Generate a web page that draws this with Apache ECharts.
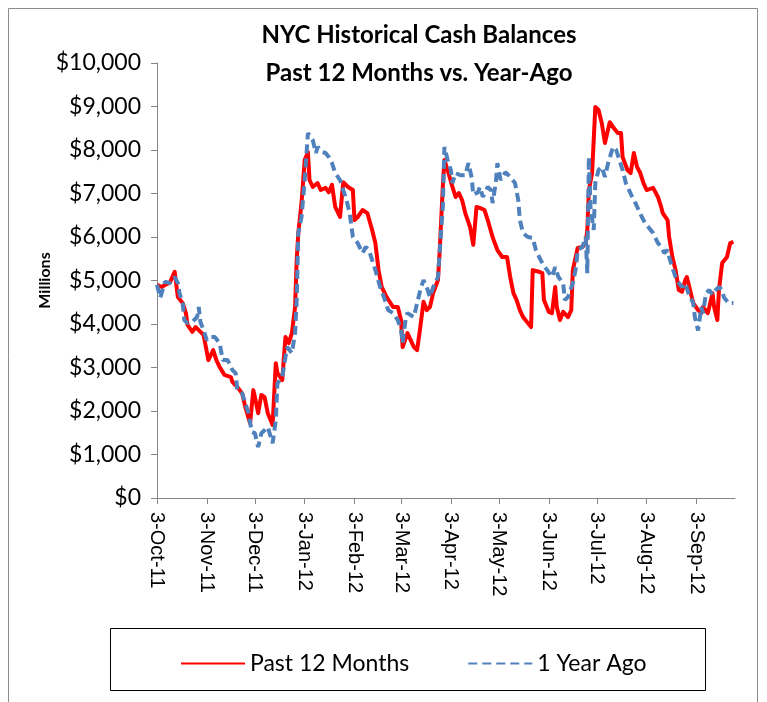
<!DOCTYPE html>
<html>
<head>
<meta charset="utf-8">
<script src="https://cdn.jsdelivr.net/npm/echarts@6/dist/echarts.min.js"></script>
<style>
  html, body { margin: 0; padding: 0; background: #ffffff; }
  #chart { width: 767px; height: 702px; }
</style>
</head>
<body>
<div id="chart"></div>
<script>
// ---- Data ----
const tickDates = ['2011-10-03','2011-11-03','2011-12-03','2012-01-03','2012-02-03','2012-03-03',
                   '2012-04-03','2012-05-03','2012-06-03','2012-07-03','2012-08-03','2012-09-03'];
const tickLabels = ['3-Oct-11','3-Nov-11','3-Dec-11','3-Jan-12','3-Feb-12','3-Mar-12',
                    '3-Apr-12','3-May-12','3-Jun-12','3-Jul-12','3-Aug-12','3-Sep-12'];
const yTicks = [0,1000,2000,3000,4000,5000,6000,7000,8000,9000,10000];

const pastDates = ['2011-10-03','2011-10-06','2011-10-08','2011-10-11','2011-10-14','2011-10-16','2011-10-19','2011-10-21','2011-10-22','2011-10-25','2011-10-27','2011-10-29',
'2011-11-01','2011-11-04','2011-11-07','2011-11-09','2011-11-11','2011-11-14','2011-11-18','2011-11-19','2011-11-22','2011-11-25','2011-11-27','2011-11-30',
'2011-12-02','2011-12-03','2011-12-05','2011-12-07','2011-12-09','2011-12-11','2011-12-14','2011-12-16','2011-12-17','2011-12-20','2011-12-22','2011-12-24','2011-12-26','2011-12-28','2011-12-29','2011-12-30',
'2012-01-01','2012-01-03','2012-01-05','2012-01-06','2012-01-08','2012-01-11','2012-01-13','2012-01-16','2012-01-18','2012-01-20','2012-01-22','2012-01-25','2012-01-27','2012-01-30',
'2012-02-02','2012-02-03','2012-02-05','2012-02-08','2012-02-11','2012-02-14','2012-02-16','2012-02-18','2012-02-20','2012-02-23','2012-02-27',
'2012-03-01','2012-03-03','2012-03-04','2012-03-07','2012-03-11','2012-03-13','2012-03-15','2012-03-17','2012-03-19','2012-03-21','2012-03-23','2012-03-26','2012-03-27','2012-03-29','2012-03-30',
'2012-04-01','2012-04-04','2012-04-06','2012-04-08','2012-04-10','2012-04-12','2012-04-15','2012-04-17','2012-04-19','2012-04-21','2012-04-24','2012-04-26','2012-04-29',
'2012-05-02','2012-05-05','2012-05-08','2012-05-10','2012-05-12','2012-05-14','2012-05-16','2012-05-18','2012-05-21','2012-05-23','2012-05-24','2012-05-28','2012-05-30','2012-05-31',
'2012-06-03','2012-06-05','2012-06-07','2012-06-08','2012-06-10','2012-06-12','2012-06-15','2012-06-17','2012-06-18','2012-06-21','2012-06-24','2012-06-26','2012-06-27','2012-06-28','2012-06-30',
'2012-07-02','2012-07-04','2012-07-06','2012-07-08','2012-07-11','2012-07-13','2012-07-16','2012-07-18','2012-07-19','2012-07-22','2012-07-24','2012-07-26','2012-07-28','2012-07-30',
'2012-08-01','2012-08-03','2012-08-07','2012-08-10','2012-08-12','2012-08-13','2012-08-16','2012-08-17','2012-08-19','2012-08-21','2012-08-23','2012-08-25','2012-08-27','2012-08-28','2012-08-30',
'2012-09-01','2012-09-04','2012-09-06','2012-09-07','2012-09-10','2012-09-11','2012-09-13','2012-09-14','2012-09-16','2012-09-17','2012-09-19','2012-09-22','2012-09-24','2012-09-26'];
const pastValues = [4900,4850,4900,4950,5200,4620,4480,4250,3980,3820,3930,3860,
3750,3170,3400,3170,3010,2830,2780,2670,2550,2410,2090,1720,
2480,2320,1950,2370,2320,1950,1680,3100,2870,2710,3700,3560,3790,4390,5470,6090,
6780,7770,7950,7310,7150,7240,7080,7130,7030,7200,6690,6460,7260,7150,
7080,6390,6460,6620,6550,6160,5860,5240,4850,4620,4390,
4390,4090,3470,3790,3470,3400,3930,4510,4320,4390,4710,5010,5630,7150,7770,
7540,7150,6920,7010,6850,6550,6230,5820,6690,6670,6620,6390,6000,
5700,5540,5540,5080,4710,4550,4320,4160,4020,3930,5240,5200,5170,4550,
4280,4250,4850,4390,4090,4280,4160,4320,5240,5750,5770,5860,6160,7080,7470,
8990,8920,8620,8160,8640,8530,8390,8390,7840,7540,7470,7930,7610,7470,
7240,7080,7130,6920,6690,6550,6390,6000,5540,5240,4780,4740,5010,5080,4780,
4480,4320,4250,4390,4250,4390,4710,4390,4090,4780,5400,5540,5860,5890];

const agoDates = ['2011-10-03','2011-10-05','2011-10-08','2011-10-11','2011-10-14','2011-10-16','2011-10-17','2011-10-19','2011-10-20','2011-10-22','2011-10-25','2011-10-28','2011-10-29','2011-10-30',
'2011-11-01','2011-11-03','2011-11-05','2011-11-08','2011-11-11','2011-11-13','2011-11-16','2011-11-19','2011-11-21','2011-11-22','2011-11-25','2011-11-27','2011-11-29',
'2011-12-01','2011-12-03','2011-12-05','2011-12-07','2011-12-11','2011-12-14','2011-12-16','2011-12-17','2011-12-20','2011-12-23','2011-12-26','2011-12-28','2011-12-29','2011-12-30',
'2012-01-01','2012-01-03','2012-01-05','2012-01-08','2012-01-10','2012-01-11','2012-01-14','2012-01-16','2012-01-18','2012-01-20','2012-01-22','2012-01-25','2012-01-27','2012-01-29','2012-01-31',
'2012-02-02','2012-02-05','2012-02-08','2012-02-10','2012-02-12','2012-02-14','2012-02-16','2012-02-19','2012-02-22','2012-02-24','2012-02-27',
'2012-03-01','2012-03-03','2012-03-04','2012-03-06','2012-03-07','2012-03-11','2012-03-13','2012-03-15','2012-03-17','2012-03-19','2012-03-21','2012-03-23','2012-03-26','2012-03-27','2012-03-29','2012-03-30',
'2012-04-01','2012-04-03','2012-04-04','2012-04-06','2012-04-09','2012-04-12','2012-04-14','2012-04-16','2012-04-17','2012-04-20','2012-04-21','2012-04-23','2012-04-26','2012-04-28','2012-04-29',
'2012-05-01','2012-05-02','2012-05-04','2012-05-07','2012-05-10','2012-05-13','2012-05-15','2012-05-16','2012-05-18','2012-05-21','2012-05-24','2012-05-26','2012-05-28','2012-05-30',
'2012-06-02','2012-06-05','2012-06-07','2012-06-09','2012-06-12','2012-06-13','2012-06-15','2012-06-18','2012-06-20','2012-06-21','2012-06-24','2012-06-26','2012-06-27','2012-06-28','2012-06-29',
'2012-07-01','2012-07-02','2012-07-04','2012-07-06','2012-07-08','2012-07-10','2012-07-13','2012-07-15','2012-07-17','2012-07-19','2012-07-21','2012-07-23','2012-07-25','2012-07-27','2012-07-29','2012-07-31',
'2012-08-02','2012-08-04','2012-08-07','2012-08-10','2012-08-12','2012-08-14','2012-08-16','2012-08-17','2012-08-19','2012-08-21','2012-08-23','2012-08-25','2012-08-27','2012-08-29',
'2012-09-01','2012-09-02','2012-09-04','2012-09-06','2012-09-07','2012-09-09','2012-09-11','2012-09-13','2012-09-15','2012-09-17','2012-09-19','2012-09-20','2012-09-23','2012-09-26'];
const agoValues = [4900,4600,4970,4940,5080,4940,4710,4480,4090,4020,4050,4160,4390,4050,
3860,3630,3700,3700,3560,3170,3170,2940,2870,2480,2410,2180,1950,
1520,1490,1170,1490,1630,1260,1790,2640,2780,3470,3330,3790,4550,6090,
6460,7310,8390,8230,7930,8070,7950,7930,7840,7700,7470,7310,7080,6850,6550,
6000,5860,5630,5770,5700,5470,5240,4850,4550,4320,4250,
4090,3860,3560,4160,4250,4160,4480,4780,5010,4850,4620,4850,5080,5630,6690,8070,
7770,7540,7240,7470,7420,7420,7700,7360,6970,7030,7150,6920,7150,7080,6780,
7240,7700,7310,7490,7380,7240,6850,6390,6090,6000,5980,5700,5540,5400,
5240,5080,5310,5080,4940,4550,4620,4940,5310,5700,5770,6000,5170,7840,6690,
6160,7240,7540,7610,7380,7700,8070,8000,7770,7540,7240,7080,6920,6780,6620,6460,
6320,6230,6090,5860,5770,5630,5700,5540,5290,5080,4940,4850,4940,4710,
4480,4160,3850,4390,4250,4710,4780,4670,4780,4850,4780,4620,4480,4480];

const axisStart = '2011-10-03';
const axisEnd = '2012-09-27';

// ---- helpers ----
function toTime(s) {
  const p = s.split('-').map(Number);
  return Date.UTC(p[0], p[1] - 1, p[2]);
}
const tickTimes = tickDates.map(toTime);
const pastData = pastDates.map((d, i) => [toTime(d), pastValues[i]]);
const agoData = agoDates.map((d, i) => [toTime(d), agoValues[i]]);

function labelFor(v) {
  let best = 0, bd = Infinity;
  tickTimes.forEach((t, i) => { const dd = Math.abs(t - v); if (dd < bd) { bd = dd; best = i; } });
  return tickLabels[best];
}

const chart = echarts.init(document.getElementById('chart'), null, { renderer: 'canvas' });
const axisGray = '#868686';

chart.setOption({
  animation: false,
  backgroundColor: '#ffffff',
  title: {
    text: 'NYC Historical Cash Balances\nPast 12 Months vs. Year-Ago',
    left: 414, top: 11, textAlign: 'center',
    textStyle: { fontFamily: 'Lato', fontWeight: 'bold', fontSize: 24, lineHeight: 38, color: '#000' }
  },
  graphic: [
    { type: 'rect', shape: { x: 8.5, y: 8.5, width: 749, height: 720 },
      style: { fill: 'none', stroke: '#8c8c8c', lineWidth: 1 }, z: -1, silent: true },
    { type: 'rect', shape: { x: 110.5, y: 628.5, width: 595, height: 62 },
      style: { fill: 'none', stroke: '#000', lineWidth: 1 }, silent: true }
  ],
  legend: {
    left: 175, top: 647,
    itemWidth: 64, itemHeight: 14, itemGap: 58,
    itemStyle: { opacity: 0 },
    textStyle: { fontFamily: 'Lato', fontSize: 23, color: '#000' },
    data: ['Past 12 Months', '1 Year Ago']
  },
  grid: { left: 157, right: 32, top: 63, bottom: 204, outerBoundsMode: 'none', containLabel: false },
  xAxis: {
    type: 'value',
    min: toTime(axisStart), max: toTime(axisEnd),
    axisLine: { show: true, lineStyle: { color: axisGray, width: 1 } },
    axisTick: { show: true, length: 6, lineStyle: { color: axisGray }, customValues: tickTimes },
    axisLabel: {
      customValues: tickTimes,
      rotate: -90, margin: 14,
      fontFamily: 'Liberation Sans', fontSize: 20, color: '#000',
      formatter: (v) => labelFor(v)
    },
    splitLine: { show: false },
    minorTick: { show: false }
  },
  yAxis: {
    type: 'value', min: yTicks[0], max: yTicks[yTicks.length - 1], interval: 1000,
    name: 'Millions', nameLocation: 'middle', nameGap: 104, nameRotate: 90,
    nameMoveOverlap: false,
    nameTextStyle: { fontFamily: 'Lato', fontWeight: 'bold', fontSize: 16, color: '#000' },
    axisLine: { show: true, lineStyle: { color: axisGray, width: 1 } },
    axisTick: { show: true, length: 6, lineStyle: { color: axisGray } },
    axisLabel: {
      margin: 16, fontFamily: 'Lato', fontSize: 23, color: '#000',
      formatter: (v) => '$' + v.toLocaleString('en-US')
    },
    splitLine: { show: false }
  },
  series: [
    {
      name: 'Past 12 Months', type: 'line', data: pastData,
      showSymbol: false, symbol: 'none',
      lineStyle: { color: '#FF0000', width: 4, join: 'round' },
      itemStyle: { color: '#FF0000' }
    },
    {
      name: '1 Year Ago', type: 'line', data: agoData,
      showSymbol: false, symbol: 'none',
      lineStyle: { color: '#4F81BD', width: 4, type: [9, 5], cap: 'butt' },
      itemStyle: { color: '#4F81BD' }
    }
  ]
});
</script>
</body>
</html>
